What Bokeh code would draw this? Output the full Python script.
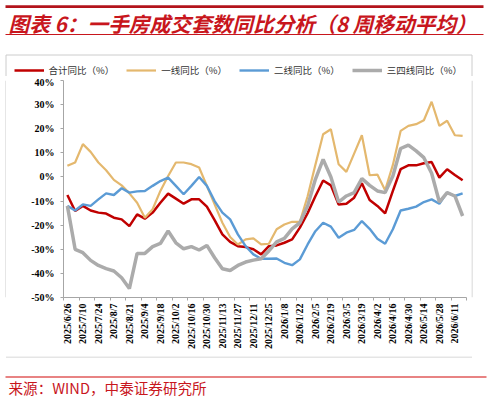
import math
from bokeh.plotting import figure
from bokeh.layouts import column, row
from bokeh.models import (Range1d, FixedTicker, Legend, LegendItem, ColumnDataSource)
from bokeh.core.properties import value
from bokeh.embed import file_html
from bokeh.resources import INLINE

# ---------------- data ----------------
dates = ["2025/6/26", "2025/7/3", "2025/7/10", "2025/7/17", "2025/7/24", "2025/7/31",
         "2025/8/7", "2025/8/14", "2025/8/21", "2025/8/28", "2025/9/4", "2025/9/11",
         "2025/9/18", "2025/9/25", "2025/10/2", "2025/10/9", "2025/10/16", "2025/10/23",
         "2025/10/30", "2025/11/6", "2025/11/13", "2025/11/20", "2025/11/27", "2025/12/4",
         "2025/12/11", "2025/12/18", "2025/12/25", "2026/1/1", "2026/1/8", "2026/1/15",
         "2026/1/22", "2026/1/29", "2026/2/5", "2026/2/12", "2026/2/19", "2026/2/26",
         "2026/3/5", "2026/3/12", "2026/3/19", "2026/3/26", "2026/4/2", "2026/4/9",
         "2026/4/16", "2026/4/23", "2026/4/30", "2026/5/7", "2026/5/14", "2026/5/21",
         "2026/5/28", "2026/6/4", "2026/6/11", "2026/6/18"]

total = [-7.5, -14.1, -12.0, -13.9, -14.8, -15.2, -16.9, -17.6, -20.4, -15.5, -17.3, -14.8,
         -10.7, -6.9, -9.0, -11.1, -9.3, -9.3, -12.3, -17.9, -23.8, -26.9, -28.7, -29.1,
         -30.0, -32.1, -28.7, -28.4, -27.3, -25.9, -21.0, -15.0, -8.0, -1.5, -3.5, -11.4,
         -11.1, -8.6, -2.6, -9.6, -12.0, -15.1, -5.8, 3.2, 4.8, 4.8, 5.7, 6.2,
         -0.3, 3.2, 0.8, -1.4]

tier1 = [4.6, 6.0, 13.6, 10.4, 6.0, 2.8, -1.2, -3.5, -6.8, -10.7, -16.9, -13.4,
         -5.8, 0.4, 6.0, 6.0, 5.3, 3.9, -3.7, -11.4, -19.0, -24.9, -28.0, -25.9,
         -25.5, -28.0, -27.7, -21.7, -19.7, -18.6, -18.6, -8.0, 5.0, 17.7, 19.8, 5.3,
         2.1, 9.7, 17.3, 0.7, 1.0, -5.5, 5.0, 19.1, 21.2, 21.9, 23.5, 31.2,
         21.2, 23.3, 17.3, 17.0]

tier2 = [-12.0, -13.9, -11.4, -12.0, -9.3, -6.8, -7.5, -4.7, -6.5, -6.0, -5.8, -3.7,
         -1.7, -0.3, -3.7, -7.2, -3.7, 0.0, -3.7, -10.0, -14.8, -17.6, -23.8, -28.7,
         -32.1, -33.9, -33.9, -33.8, -35.6, -36.6, -34.2, -28.0, -22.5, -19.0, -20.6, -25.2,
         -23.1, -22.0, -18.3, -21.5, -25.6, -27.7, -21.7, -13.9, -13.2, -12.3, -10.4, -9.3,
         -11.1, -6.5, -7.9, -6.8]

tier34 = [-12.0, -30.0, -31.4, -34.6, -36.7, -38.0, -39.0, -41.8, -46.3, -31.7, -31.7, -28.9,
          -27.6, -22.4, -27.3, -29.8, -28.9, -30.3, -28.4, -33.5, -38.1, -38.8, -36.7, -35.3,
          -34.5, -33.9, -30.7, -26.9, -25.5, -21.5, -19.0, -12.0, -1.0, 7.3, 0.0, -10.4,
          -7.9, -6.5, -0.7, -3.5, -5.8, -6.5, 0.4, 11.8, 13.2, 10.8, 8.0, 1.5,
          -10.4, -6.5, -7.9, -16.2]

y_ticks = [-50, -40, -30, -20, -10, 0, 10, 20, 30, 40]
series_names = ["合计同比（%）", "一线同比（%）", "二线同比（%）", "三四线同比（%）"]
title_text = "图表 6：一手房成交套数同比分析（8 周移动平均）"
source_text = "来源：WIND，中泰证券研究所"

# ---------------- styling ----------------
RED = "#C00000"
ORANGE = "#E4B86E"
BLUE = "#5B9BD5"
GRAY = "#ABABAB"
AXIS_GRAY = "#A6A6A6"
TITLE_RED = "#C8161D"
BOX_GRAY = "#CCCCCC"
CJK = "Noto Sans CJK SC"

TOTAL_W = 488
HEAD_H = 76           # page rows 0..76
MAIN_H = 280          # page rows 76..356
FOOT_H = 400 - HEAD_H - MAIN_H
LEFT_W = 6            # page cols 0..6 (box left edge)
RIGHT_W = 17          # page cols 471..488 (box right edge)
MAIN_W = TOTAL_W - LEFT_W - RIGHT_W


def pixel_fig(w, h):
    """Decoration panel whose data units are its own pixels (y downwards)."""
    f = figure(width=w, height=h, output_backend="svg", toolbar_location=None,
               title=None, x_range=Range1d(0, w), y_range=Range1d(h, 0),
               x_axis_location=None, y_axis_location=None,
               min_border_left=0, min_border_right=0, min_border_top=0, min_border_bottom=0)
    f.outline_line_color = None
    f.xgrid.visible = False
    f.ygrid.visible = False
    f.background_fill_color = "white"
    f.border_fill_color = "white"
    return f


# ---------------- header: title + legend ----------------
head = pixel_fig(TOTAL_W, HEAD_H)
head.quad(left=[5], right=[483], top=[4.8], bottom=[7.6], fill_color="#B3141B", line_color=None)
head.text(x=[8], y=[22.5], text=[title_text], text_font=value(CJK),
          text_font_style="bold italic", text_font_size="20.7px", text_color=TITLE_RED,
          text_baseline="middle", text_align="left")
head.segment(x0=[5], y0=[34], x1=[483], y1=[34], line_color=TITLE_RED, line_width=1)
# upper part of the light frame box
head.segment(x0=[5.5, 5.5, 471.5], y0=[54.5, 54.5, 54.5], x1=[471.5, 5.5, 471.5],
             y1=[54.5, HEAD_H, HEAD_H], line_color=BOX_GRAY, line_width=1)

# legend keys (their own lines lie outside the visible header area)
key_specs = [(RED, 2.5), (ORANGE, 2.2), (BLUE, 2.4), (GRAY, 3.5)]
key_renderers = [head.line(x=[-40, -30], y=[-40, -30], line_color=c, line_width=w)
                 for c, w in key_specs]
legend = Legend(
    items=[LegendItem(label=n, renderers=[r]) for n, r in zip(series_names, key_renderers)],
    orientation="horizontal", location=(13.5, -0.5),
    margin=0, padding=0, spacing=12, label_standoff=5,
    glyph_width=30, glyph_height=10, label_height=10,
    border_line_color=None, background_fill_alpha=0,
    label_text_font=CJK, label_text_font_size="9.5px",
    label_text_color="#333333", label_text_baseline="middle")
head.add_layout(legend)

# ---------------- main chart ----------------
N = len(dates)
FL, FR = 63 - LEFT_W, 466 - LEFT_W          # frame columns inside main figure
FT, FB = 80 - HEAD_H, 297 - HEAD_H          # frame rows inside main figure

p = figure(width=MAIN_W, height=MAIN_H, output_backend="svg", toolbar_location=None,
           title=None, x_range=Range1d(-0.5, N - 0.5), y_range=Range1d(-50, 40),
           min_border_left=FL, min_border_right=MAIN_W - FR,
           min_border_top=FT, min_border_bottom=MAIN_H - FB)
p.outline_line_color = None
p.xgrid.visible = False
p.ygrid.visible = False
p.background_fill_color = "white"
p.border_fill_color = "white"

src = ColumnDataSource(dict(x=list(range(N)), total=total, t1=tier1, t2=tier2, t34=tier34))
p.line("x", "total", source=src, line_color=RED, line_width=2.5)
p.line("x", "t1", source=src, line_color=ORANGE, line_width=2.2)
p.line("x", "t2", source=src, line_color=BLUE, line_width=2.4)
p.line("x", "t34", source=src, line_color=GRAY, line_width=3.5)

xa = p.xaxis[0]
xa.ticker = FixedTicker(ticks=list(range(0, N, 2)),
                        minor_ticks=[i - 0.5 for i in range(0, N + 1, 2)])
xa.major_label_overrides = {i: dates[i] for i in range(0, N, 2)}
xa.major_label_orientation = math.pi / 2
xa.major_tick_line_color = None
xa.major_tick_out = 0
xa.major_tick_in = 0
xa.minor_tick_out = 3
xa.minor_tick_in = 0
xa.minor_tick_line_color = AXIS_GRAY
xa.axis_line_color = AXIS_GRAY
xa.major_label_standoff = 3
xa.major_label_text_font = "Liberation Serif"
xa.major_label_text_font_style = "bold"
xa.major_label_text_font_size = "10px"
xa.major_label_text_color = "#000000"

ya = p.yaxis[0]
ya.ticker = FixedTicker(ticks=y_ticks)
ya.major_label_overrides = {v: f"{v}%" for v in y_ticks}
ya.major_tick_out = 3
ya.major_tick_in = 0
ya.major_tick_line_color = AXIS_GRAY
ya.minor_tick_line_color = None
ya.axis_line_color = AXIS_GRAY
ya.major_label_standoff = 6
ya.major_label_text_font = "Liberation Serif"
ya.major_label_text_font_style = "bold"
ya.major_label_text_font_size = "10px"
ya.major_label_text_color = "#000000"

# side strips carrying the frame box edges
left_strip = pixel_fig(LEFT_W, MAIN_H)
left_strip.segment(x0=[5.5], y0=[0], x1=[5.5], y1=[MAIN_H], line_color=BOX_GRAY, line_width=1)
right_strip = pixel_fig(RIGHT_W, MAIN_H)
right_strip.segment(x0=[0.5], y0=[0], x1=[0.5], y1=[MAIN_H], line_color=BOX_GRAY, line_width=1)

# ---------------- footer: source ----------------
foot = pixel_fig(TOTAL_W, FOOT_H)
foot.segment(x0=[5.5], y0=[0.5], x1=[471.5], y1=[0.5], line_color=BOX_GRAY, line_width=1)
foot.segment(x0=[5], y0=[20.5], x1=[486], y1=[20.5], line_color="#E05A5A", line_width=1.5)
foot.text(x=[8], y=[30.5], text=[source_text], text_font=value(CJK),
          text_font_size="14.6px", text_color=TITLE_RED,
          text_baseline="middle", text_align="left")

layout = column(head, row(left_strip, p, right_strip, spacing=0), foot, spacing=0)

open("out.html", "w").write(file_html(layout, INLINE))
